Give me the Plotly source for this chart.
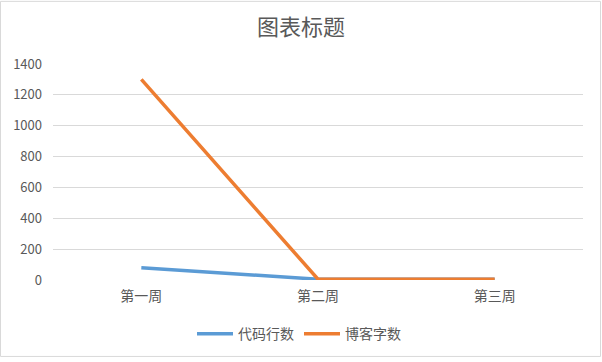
import plotly.graph_objects as go

categories = ["第一周", "第二周", "第三周"]
code_lines = [80, 5, 5]
blog_words = [1300, 5, 5]
series_names = ["代码行数", "博客字数"]
y_ticks = [0, 200, 400, 600, 800, 1000, 1200, 1400]

W, H = 602, 362
L, R, T, B = 53, 19, 64, 79
pw, ph = W - L - R, H - T - B

fig = go.Figure()
fig.add_trace(go.Scatter(x=categories, y=code_lines, name=series_names[0], mode="lines",
                         line=dict(color="#5b9bd5", width=3.5)))
fig.add_trace(go.Scatter(x=categories, y=blog_words, name=series_names[1], mode="lines",
                         line=dict(color="#ed7d31", width=3.5)))

font = "Noto Sans CJK SC, sans-serif"
fig.update_layout(
    width=W, height=H,
    margin=dict(l=L, r=R, t=T, b=B),
    paper_bgcolor="white", plot_bgcolor="white",
    title=dict(text="图表标题", x=0.5, xanchor="center", y=1 - 27 / H, yanchor="middle",
               font=dict(family=font, size=22, color="#595959")),
    font=dict(family=font, size=12, color="#595959"),
    xaxis=dict(type="category", range=[-0.5, 2.5], showgrid=False, showline=False,
               ticks="", zeroline=False, ticklabelstandoff=6,
               tickfont=dict(size=14, color="#595959")),
    yaxis=dict(range=[0, 1400], tickvals=y_ticks, showgrid=True, gridcolor="#d9d9d9",
               gridwidth=1, zeroline=False, showline=False, ticks="", ticklabelstandoff=10,
               tickfont=dict(size=13, color="#595959")),
    legend=dict(orientation="h", x=(299 - L) / pw, xanchor="center", y=-(338 - (T + ph)) / ph,
                yanchor="middle", font=dict(size=14, color="#595959"), itemwidth=36,
                tracegroupgap=0),
    showlegend=True,
    shapes=[dict(type="rect", xref="paper", yref="paper",
                 x0=-(L - 0.5) / pw, x1=1 + (R - 1.5) / pw,
                 y0=-(B - 1.5) / ph, y1=1 + (T - 0.5) / ph,
                 line=dict(color="#d9d9d9", width=1), layer="below")],
)

fig.write_html("out.html", post_script="document.body.style.margin='0';",
               config={"displayModeBar": False})
